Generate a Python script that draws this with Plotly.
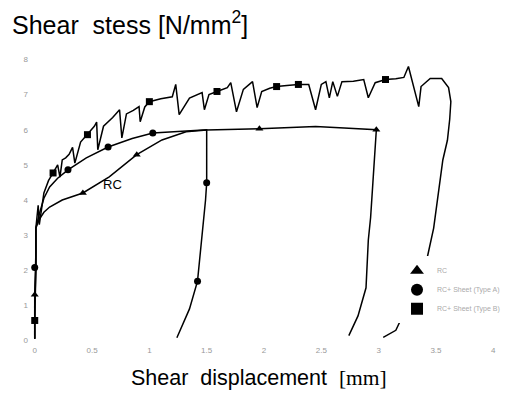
import plotly.graph_objects as go

# ---- data ----
# RC (triangles)
rc_x = [0.0, 0.0, 0.01, 0.01, 0.04, 0.08, 0.13, 0.24, 0.42, 0.65, 0.89, 1.11, 1.32, 1.50, 1.96, 2.20, 2.45, 2.70, 2.98,
        2.95, 2.93, 2.91, 2.89, 2.82, 2.74]
rc_y = [0.05, 1.3, 2.5, 3.2, 3.45, 3.65, 3.8, 4.0, 4.2, 4.66, 5.29, 5.71, 5.94, 5.99, 6.03, 6.06, 6.09, 6.05, 6.0,
        4.5, 3.5, 2.86, 1.5, 0.7, 0.14]
rc_mx = [0.0, 0.42, 0.89, 1.96, 2.98]
rc_my = [1.3, 4.2, 5.29, 6.03, 6.0]

# RC + (circles)
c_x = [0.0, 0.0, 0.01, 0.01, 0.04, 0.08, 0.13, 0.20, 0.29, 0.45, 0.64, 0.85, 1.03, 1.20, 1.32, 1.50,
       1.50, 1.50, 1.49, 1.46, 1.42, 1.35, 1.24]
c_y = [0.05, 1.0, 2.08, 3.2, 3.6, 4.05, 4.37, 4.62, 4.86, 5.2, 5.51, 5.75, 5.91, 5.95, 5.97, 6.0,
       5.5, 4.49, 4.0, 3.0, 1.69, 0.9, 0.08]
c_mx = [0.0, 0.29, 0.64, 1.03, 1.50, 1.42]
c_my = [2.08, 4.86, 5.51, 5.91, 4.49, 1.69]

# RC + (squares), jagged curve
s_x = [0.0, 0.0, 0.01, 0.01, 0.03, 0.04, 0.08, 0.12, 0.16, 0.20, 0.22, 0.24, 0.27, 0.30, 0.33, 0.35, 0.40,
       0.46, 0.52, 0.54, 0.55, 0.60, 0.68, 0.74, 0.76, 0.80, 0.86, 0.91, 0.92, 0.96, 1.00, 1.10, 1.20,
       1.23, 1.26, 1.35, 1.46, 1.48, 1.52, 1.59, 1.68, 1.71, 1.76, 1.82, 1.90, 1.94, 1.98, 2.05, 2.11,
       2.20, 2.30, 2.39, 2.45, 2.50, 2.54, 2.57, 2.60, 2.64, 2.68, 2.78, 2.87, 2.91, 2.97, 3.06, 3.15,
       3.22, 3.26, 3.35, 3.37, 3.45, 3.55, 3.61, 3.63, 3.62, 3.60, 3.56, 3.52, 3.48, 3.42, 3.34, 3.24,
       3.15, 3.04]
s_y = [0.05, 0.57, 2.0, 3.2, 3.85, 3.3, 4.2, 4.55, 4.77, 5.0, 4.65, 5.14, 5.2, 5.3, 5.5, 5.05, 5.65,
       5.86, 6.1, 6.22, 5.43, 6.1, 6.35, 6.57, 5.77, 6.45, 6.55, 6.66, 6.23, 6.65, 6.8, 6.88, 6.94,
       7.29, 6.43, 6.9, 7.06, 6.57, 7.0, 7.09, 7.2, 7.34, 6.51, 7.15, 7.37, 6.63, 7.09, 7.18, 7.23,
       7.26, 7.29, 7.29, 6.57, 7.29, 7.37, 6.91, 7.37, 6.95, 7.37, 7.38, 7.43, 6.91, 7.34, 7.43, 7.45,
       7.49, 7.8, 6.66, 7.23, 7.46, 7.46, 7.2, 6.8, 6.3, 5.7, 5.14, 4.2, 3.2, 2.3, 1.6, 0.91,
       0.29, 0.09]
s_mx = [0.0, 0.16, 0.46, 1.00, 1.59, 2.11, 2.30, 3.06]
s_my = [0.57, 4.77, 5.86, 6.8, 7.09, 7.23, 7.29, 7.43]

names = ["RC", "RC+ Sheet (Type A)", "RC+ Sheet (Type B)"]
x_ticks = [0, 0.5, 1, 1.5, 2, 2.5, 3, 3.5, 4]
y_ticks = [0, 1, 2, 3, 4, 5, 6, 7, 8]

fig = go.Figure()
line = dict(color="black", width=1.5)
for xs, ys in [(rc_x, rc_y), (c_x, c_y), (s_x, s_y)]:
    fig.add_trace(go.Scatter(x=xs, y=ys, mode="lines", line=line, showlegend=False, hoverinfo="skip"))

for mx, my, sym, nm in [(rc_mx, rc_my, "triangle-up", names[0]),
                        (c_mx, c_my, "circle", names[1]),
                        (s_mx, s_my, "square", names[2])]:
    fig.add_trace(go.Scatter(x=mx, y=my, mode="markers", name=nm,
                             marker=dict(symbol=sym, size=7, color="black")))

fig.add_annotation(x=0.68, y=4.43, text="RC", showarrow=False,
                   font=dict(family="Liberation Sans", size=13, color="black"))

# chart title (y-axis label) at top-left
fig.add_annotation(xref="paper", yref="paper", x=-0.04, y=1.0, yshift=33, xanchor="left", yanchor="middle",
                   text="Shear  stess [N/mm<sup>2</sup>]", showarrow=False,
                   font=dict(family="Liberation Sans", size=25, color="black"))

# x-axis title
fig.add_annotation(xref="paper", yref="paper", x=0.49, y=0.0, yshift=-34, xanchor="center", yanchor="middle",
                   text='Shear  displacement  <span style="font-family:Liberation Serif">[mm]</span>',
                   showarrow=False, font=dict(family="Liberation Sans", size=21.5, color="black"))

fig.update_layout(
    template="none",
    width=502, height=400,
    margin=dict(l=21, r=11, t=48, b=64, pad=0, autoexpand=False),
    paper_bgcolor="white", plot_bgcolor="white",
    font=dict(family="Liberation Sans", color="#999999", size=8),
    xaxis=dict(range=[-0.05, 4.05], tickvals=x_ticks, ticktext=[str(v) for v in x_ticks],
               showgrid=False, zeroline=False, showline=False, ticks="", automargin=False,
               tickfont=dict(size=8, color="#999999")),
    yaxis=dict(range=[-0.1, 8.1], tickvals=y_ticks, ticktext=[str(v) for v in y_ticks],
               showgrid=False, zeroline=False, showline=False, ticks="", automargin=False,
               tickfont=dict(size=8, color="#999999")),
    legend=dict(x=0.783, y=0.305, xanchor="left", yanchor="top", bgcolor="white", borderwidth=0,
                font=dict(size=7, color="#aaaaaa"), tracegroupgap=0, itemsizing="constant"),
)

fig.write_html("out.html")
